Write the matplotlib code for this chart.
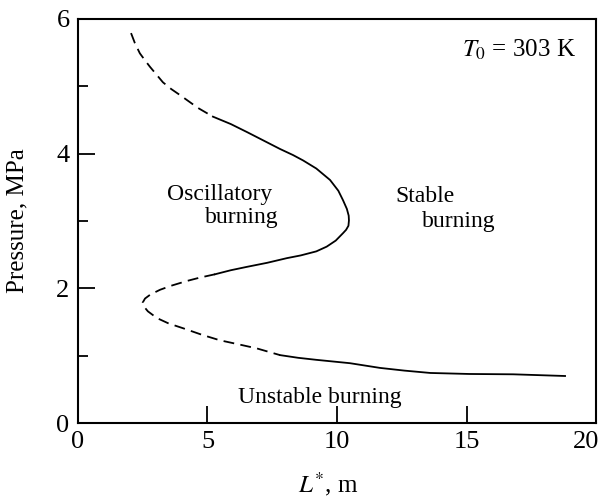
import matplotlib
matplotlib.use("Agg")
import matplotlib.pyplot as plt
import matplotlib.transforms as mtransforms

plt.rcParams['font.family'] = ['Liberation Serif', 'DejaVu Serif']
plt.rcParams['mathtext.fontset'] = 'stix'

# boundary curve L* (m) vs pressure (MPa), split by line style
upper_dash_L = [2.05, 2.2, 2.39, 2.6, 2.78, 3.28, 3.6, 3.94, 4.63, 5.21]
upper_dash_p = [5.79, 5.64, 5.49, 5.38, 5.29, 5.06, 4.96, 4.87, 4.68, 4.55]

middle_L = [5.21, 5.9, 6.53, 7.14, 7.8, 8.3, 8.69, 9.2, 9.73, 10.05, 10.23, 10.38, 10.45,
            10.46, 10.44, 10.35, 10.23, 9.95, 9.6, 9.2, 8.6, 8.07, 7.3, 6.52, 5.9, 5.29]
middle_p = [4.55, 4.44, 4.32, 4.20, 4.07, 3.98, 3.90, 3.78, 3.61, 3.45, 3.31, 3.18, 3.08,
            3.01, 2.93, 2.87, 2.82, 2.71, 2.62, 2.55, 2.49, 2.45, 2.38, 2.32, 2.27, 2.21]

lower_dash_L = [5.29, 4.7, 4.2, 3.6, 3.17, 2.8, 2.59, 2.5, 2.55, 2.7, 3.05, 3.5, 4.05,
                4.8, 5.48, 6.2, 6.9, 7.8]
lower_dash_p = [2.21, 2.16, 2.11, 2.04, 1.98, 1.91, 1.85, 1.79, 1.73, 1.66, 1.56, 1.48, 1.41,
                1.31, 1.23, 1.17, 1.11, 1.01]

bottom_L = [7.8, 8.5, 9.2, 10.5, 11.66, 12.6, 13.6, 15.1, 16.8, 18.8]
bottom_p = [1.01, 0.97, 0.94, 0.89, 0.82, 0.78, 0.745, 0.73, 0.725, 0.70]

fig = plt.figure(figsize=(6.04, 4.99), dpi=100)
ax = fig.add_axes([0.129, 0.152, 0.858, 0.810])

dash = (0, (6, 3.5))
ax.plot(upper_dash_L, upper_dash_p, color='black', lw=1.3, linestyle=dash)
ax.plot(middle_L, middle_p, color='black', lw=1.3)
ax.plot(lower_dash_L, lower_dash_p, color='black', lw=1.3, linestyle=dash)
ax.plot(bottom_L, bottom_p, color='black', lw=1.3)

ax.set_xlim(0, 20)
ax.set_ylim(0, 6)
ax.set_xticks([0, 5, 10, 15, 20])
ax.set_yticks([0, 2, 4, 6])
ax.set_yticks([1, 3, 5], minor=True)
ax.tick_params(direction='in', length=12, width=1.3, labelsize=19, pad=6)
ax.tick_params(axis='y', which='minor', direction='in', length=7, width=1.3)
for s in ax.spines.values():
    s.set_linewidth(1.5)

# pull the last x label ("20") a little left so it stays inside the picture
last = ax.get_xticklabels()[-1]
last.set_transform(last.get_transform() +
                   mtransforms.ScaledTranslation(-7 / 72, 0, fig.dpi_scale_trans))

ax.set_xlabel('$L^{*}$, m', fontsize=18)
ax.xaxis.set_label_coords(0.483, -0.115)
ax.set_ylabel('Pressure, MPa', fontsize=18)
ax.yaxis.set_label_coords(-0.095, 0.5)

ax.text(5.48, 3.31, 'Oscillatory', fontsize=17, ha='center', va='baseline')
ax.text(6.33, 2.97, 'burning', fontsize=17, ha='center', va='baseline')
ax.text(13.38, 3.28, 'Stable', fontsize=17, ha='center', va='baseline')
ax.text(14.68, 2.91, 'burning', fontsize=17, ha='center', va='baseline')
ax.text(9.33, 0.30, 'Unstable burning', fontsize=17, ha='center', va='baseline')
ax.text(14.83, 5.44, '$T_0$ = 303 K', fontsize=18, ha='left', va='baseline')

fig.savefig('out.png', dpi=100)
